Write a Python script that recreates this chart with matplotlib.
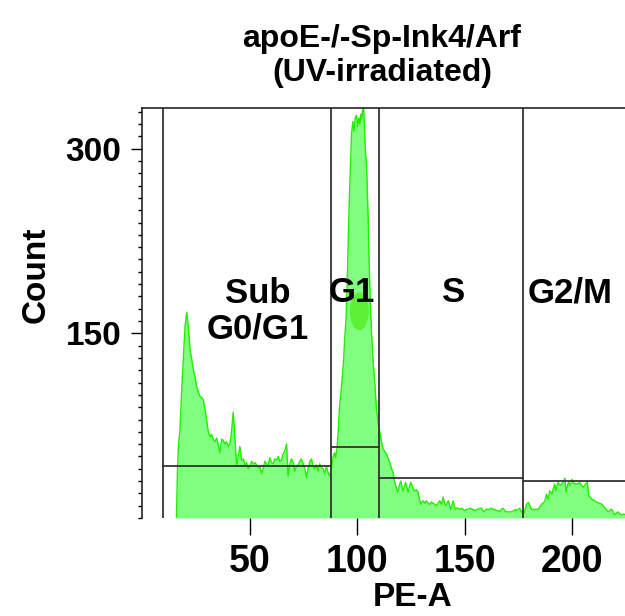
# Cell cycle histogram (PE-A) with gates
import matplotlib.pyplot as plt
from matplotlib.patches import Ellipse

#### -------- data -------- ####
pe_a = [
    16.0, 16.5, 17.0, 17.6, 18.4, 19.2, 20.0, 20.8, 21.5, 22.3, 23.1, 23.8,
    24.6, 25.4, 26.2, 26.9, 27.7, 28.5, 29.3, 30.0, 30.8, 31.6, 32.3, 33.1,
    33.9, 34.7, 35.4, 36.2, 37.0, 37.8, 38.5, 39.3, 40.1, 40.9, 41.6, 42.4,
    43.2, 44.0, 44.7, 45.5, 46.3, 47.1, 47.8, 48.6, 49.4, 50.2, 50.9, 51.7,
    52.5, 53.3, 54.0, 54.8, 55.6, 56.3, 57.1, 57.9, 58.6, 59.4, 60.2, 61.0,
    61.7, 62.5, 63.3, 64.0, 64.8, 65.6, 66.4, 67.2, 67.9, 68.7, 69.5, 70.3,
    71.0, 71.8, 72.6, 73.3, 74.1, 74.9, 75.7, 76.4, 77.2, 78.0, 78.8, 79.5,
    80.3, 81.1, 81.8, 82.6, 83.4, 84.2, 84.9, 85.7, 86.5, 87.3, 88.0,
    88.9, 89.5, 90.1, 90.7, 91.2, 91.8, 92.4, 93.0, 93.6, 94.2, 94.8, 95.3,
    95.8, 96.3, 96.9, 97.4, 98.0, 98.6, 99.1, 99.7, 100.2, 100.8, 101.3,
    101.7, 102.2, 102.5, 103.0, 103.4, 103.8, 104.4, 104.8, 105.1, 105.6,
    106.2, 106.7, 107.4, 108.2, 109.0, 109.8, 110.5, 111.3, 112.1, 112.9,
    113.7, 114.5, 115.2, 116.0, 116.7, 117.5, 118.3, 119.0, 119.7, 120.3,
    120.9, 121.4, 122.0, 122.5, 123.1, 123.7, 124.3, 124.9, 125.6, 126.2,
    126.8, 127.5, 128.3, 129.0, 129.6, 130.2, 130.7, 131.5, 132.2, 133.0,
    133.8, 134.5, 135.3, 136.1, 136.9, 137.6, 138.4, 139.2, 140.0, 140.6,
    141.2, 141.8, 142.4, 143.0, 143.5, 144.0, 144.6, 145.1, 145.7, 146.3,
    146.9, 147.7, 148.5, 149.2, 150.0, 150.8, 151.6, 152.5, 153.4, 154.0,
    154.7, 155.5, 156.3, 157.0, 157.8, 158.4, 159.0, 159.9, 160.8, 161.6,
    162.4, 163.2, 164.0, 164.7, 165.5, 166.3, 167.0, 167.8, 168.6, 169.4,
    170.5, 171.7, 172.8, 173.6, 174.0, 174.8, 175.6, 176.4, 177.1, 177.6,
    178.2, 178.7, 179.2, 179.7, 180.3, 181.0, 181.8, 182.5, 183.3, 184.1,
    184.9, 185.6, 186.4, 187.2, 188.0, 188.7, 189.1, 189.5, 190.0, 190.6,
    191.2, 191.8, 192.3, 192.8, 193.4, 194.0, 194.6, 195.1, 195.7, 196.1,
    196.5, 197.2, 197.8, 198.3, 198.8, 199.4, 199.9, 200.5, 201.1, 201.7,
    202.2, 202.8, 203.4, 204.2, 205.0, 205.6, 206.1, 206.6, 207.0, 207.6,
    208.3, 208.9, 209.6, 210.4, 211.2, 211.9, 212.7, 213.5, 214.3, 215.0,
    215.8, 216.6, 217.4, 218.2, 219.0, 219.7, 220.5, 221.3, 222.0, 222.8,
    223.6, 224.5,
]
count = [
    0, 40, 60, 70, 102, 129, 156, 167, 156, 137, 129, 121,
    115, 107, 102, 99, 98, 96, 88, 80, 70, 66, 68, 64,
    62, 65, 60, 53, 64, 63, 60, 62, 58, 61, 70, 86,
    64, 42, 50, 58, 47, 48, 43, 45, 40, 42, 46, 44,
    45, 43, 41, 42, 36, 40, 46, 44, 42, 49, 45, 44,
    48, 47, 50, 46, 47, 52, 55, 60, 34, 44, 48, 45,
    38, 42, 43, 46, 48, 44, 40, 33, 40, 46, 48, 42,
    40, 43, 38, 44, 41, 40, 36, 42, 37, 34, 40,
    50, 53, 49, 58, 70, 90, 100, 112, 125, 145, 160, 185,
    220, 255, 285, 312, 322, 314, 325, 327, 318, 325, 320,
    328, 324, 331, 333, 318, 300, 285, 262, 245, 205,
    172, 150, 128, 110, 88, 78, 70, 62, 56, 54,
    52, 48, 45, 40, 37, 29, 24, 21, 27, 30,
    25, 22, 26, 29, 25, 21, 25, 29, 26, 23,
    22, 23, 21, 15, 11, 13, 14, 12, 14, 12,
    11, 13, 12, 11, 10, 12, 14, 11, 17, 12,
    10, 12, 14, 10, 7, 10, 14, 10, 7, 8,
    8, 7, 8, 7, 6, 7, 7, 8, 7, 7,
    6, 7, 7, 8, 8, 6, 5, 7, 7, 7,
    8, 7, 7, 6, 6, 5, 7, 8, 6, 5,
    5, 5, 6, 7, 6, 7, 8, 5, 5, 4,
    8, 11, 12, 12.5, 10, 7, 7, 7, 7, 7,
    9, 11, 12, 13.5, 19.5, 15, 18, 22, 21, 19.5,
    24, 27.6, 22, 26, 29, 27, 26.5, 28, 29, 30,
    32.4, 21, 27, 29, 26.5, 28, 31.4, 29, 27.6, 28,
    27.6, 28, 29, 27, 25, 26, 27.6, 28, 29, 18.3,
    17, 15.7, 15, 14, 13, 12.5, 12, 11.4, 10, 8.4,
    7, 5, 6, 7.3, 5, 2.5, 4, 5, 3.5, 2.5,
    3, 3,
]

gate_names = ["Sub\nG0/G1", "G1", "S", "G2/M"]
gate_left = [9.75, 87.8, 110.0, 177.0]
gate_right = [87.8, 110.0, 177.0, 240.0]
gate_level = [42.4, 57.8, 32.7, 30.3]
label_x = [54.0, 97.5, 145.0, 198.8]
label_y = [168.0, 183.0, 183.0, 183.0]

x_ticks = [50, 100, 150, 200]
y_ticks = [150, 300]

#### -------- style -------- ####
font = ["Liberation Sans", "DejaVu Sans"]

fig = plt.figure(figsize=(6.25, 6.16), dpi=100)
ax = fig.add_axes([142 / 625, 98 / 616, 483 / 625, 410 / 616])

ax.fill_between(pe_a, count, 0, color="#80ff80", lw=0, zorder=1)
ax.plot(pe_a, count, color="#22ee00", lw=1, zorder=2)

# gates
for gl, gr, lev in zip(gate_left, gate_right, gate_level):
    ax.axvline(gl, color="#333333", lw=1.3, zorder=3)
    ax.plot([gl, gr], [lev, lev], color="#333333", lw=1.3, zorder=3)

# highlight blob on G1 peak
ax.add_patch(Ellipse((101, 168), 8.8, 31, color="#55ee22", alpha=0.8, lw=0, zorder=2.5))

for name, lx, ly in zip(gate_names, label_x, label_y):
    ax.text(lx, ly, name, ha="center", va="center", fontsize=25,
            fontweight="bold", family=font, zorder=4, linespacing=1.1)

ax.set_xlim(0, 224.5)
ax.set_ylim(0, 333)

ax.spines["right"].set_visible(False)
ax.spines["bottom"].set_visible(False)
for s in ["left", "top"]:
    ax.spines[s].set_color("#222222")
    ax.spines[s].set_linewidth(1.2)

ax.set_xticks(x_ticks)
ax.set_xticklabels([str(v) for v in x_ticks], fontsize=27, fontweight="bold", family=font)
ax.set_yticks(y_ticks)
ax.set_yticklabels([str(v) for v in y_ticks], fontsize=24, fontweight="bold", family=font)
ax.set_yticks(range(0, 334, 10), minor=True)
ax.tick_params(axis="x", direction="out", length=12, width=1, pad=7)
ax.tick_params(axis="y", which="major", direction="out", length=8, width=1, pad=7)
ax.tick_params(axis="y", which="minor", direction="out", length=3, width=1)

fig.text(382 / 625, 1 - 56 / 616, "apoE-/-Sp-Ink4/Arf\n(UV-irradiated)", ha="center",
         va="center", fontsize=23, fontweight="bold", family=font, linespacing=1.2)
fig.text(36 / 625, 1 - 275 / 616, "Count", rotation=90, ha="center", va="center",
         fontsize=24, fontweight="bold", family=font)
fig.text(413 / 625, 1 - 598 / 616, "PE-A", ha="center", va="center",
         fontsize=24, fontweight="bold", family=font)

fig.savefig("out.png", dpi=100)
